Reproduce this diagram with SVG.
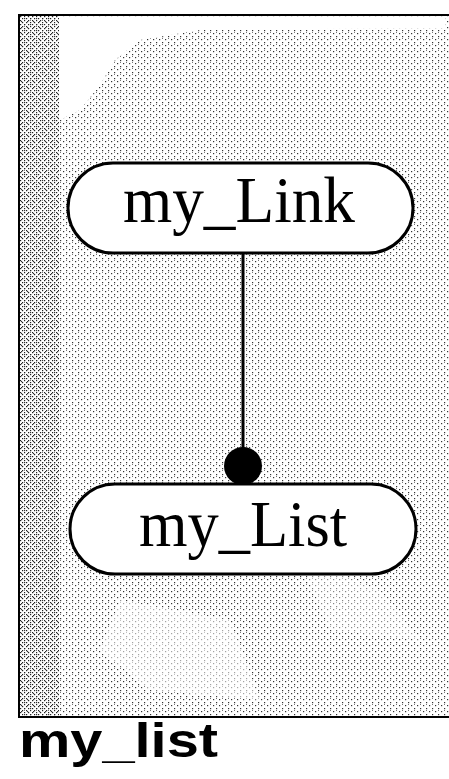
<svg xmlns="http://www.w3.org/2000/svg" width="449" height="779" viewBox="0 0 449 779">
  <defs>
    <pattern id="stipple" width="6" height="6" patternUnits="userSpaceOnUse">
      <rect x="0" y="0" width="1.2" height="1.2" fill="#333"/>
      <rect x="3" y="3" width="1.2" height="1.2" fill="#333"/>
      <rect x="0" y="2" width="1" height="1" fill="#777"/>
    </pattern>
    <pattern id="stippleDense" width="4" height="4" patternUnits="userSpaceOnUse">
      <rect x="0" y="0" width="1.2" height="1.2" fill="#222"/>
      <rect x="2" y="2" width="1.2" height="1.2" fill="#222"/>
    </pattern>
    <style>
      .node rect { fill: #fff; stroke: #000; stroke-width: 3; }
      .node text { font-family: "Liberation Serif", "Times New Roman", serif; font-size: 66px; fill: #000; text-anchor: middle; }
      .conn line { stroke: #000; stroke-width: 3; }
      .caption { font-family: "Liberation Sans", Arial, sans-serif; font-weight: bold; font-size: 48px; fill: #000; }
    </style>
  </defs>

  <g id="background">
    <rect x="19" y="15" width="440" height="702" fill="#fff"/>
    <rect x="19" y="15" width="440" height="702" fill="url(#stipple)"/>
    <rect x="19" y="15" width="40" height="702" fill="url(#stippleDense)"/>
    <path d="M60 17 L445 17 L445 28 L200 30 L140 40 L115 60 L100 85 L80 110 L60 120 Z" fill="#fff"/>
    <path d="M120 600 L230 620 L260 700 L150 690 L100 650 Z" fill="#fff" opacity="0.55"/>
    <path d="M300 560 L380 590 L420 640 L330 630 Z" fill="#fff" opacity="0.4"/>
    <rect x="19" y="15" width="440" height="702" fill="none" stroke="#000" stroke-width="2"/>
  </g>

  <g id="connectors" class="conn">
    <line x1="243" y1="253" x2="243" y2="462"/>
    <circle cx="243" cy="466" r="19" fill="#000"/>
  </g>

  <g id="node-my_Link" class="node">
    <rect x="68" y="163" width="345" height="90" rx="45" ry="45"/>
    <text x="239" y="222" textLength="232" lengthAdjust="spacingAndGlyphs">my_Link</text>
  </g>

  <g id="node-my_List" class="node">
    <rect x="70" y="484" width="346" height="90" rx="45" ry="45"/>
    <text x="243" y="546" textLength="208" lengthAdjust="spacingAndGlyphs">my_List</text>
  </g>

  <text class="caption" x="19" y="757" textLength="199" lengthAdjust="spacingAndGlyphs">my_list</text>
</svg>
